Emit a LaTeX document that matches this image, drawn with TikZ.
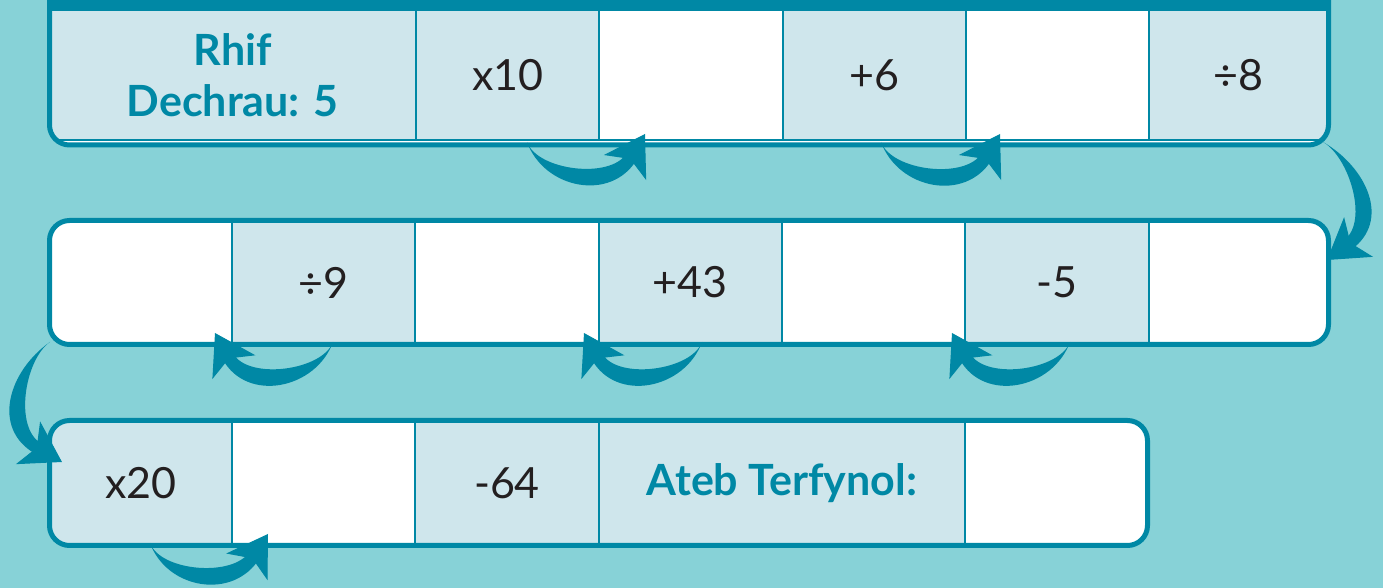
\documentclass[tikz,border=0pt]{standalone}
\usepackage{fontspec}
\setmainfont{Lato}
\usetikzlibrary{arrows.meta,positioning,calc}
\definecolor{sea}{HTML}{87D2D7}
\definecolor{deep}{HTML}{0088A5}
\definecolor{mist}{HTML}{CFE6EC}
\definecolor{ink}{HTML}{231F20}
\newcommand\numfont{\fontsize{21.5}{25}\selectfont}
\newcommand\tagfont{\fontsize{21.5}{25.5}\selectfont\bfseries}
\tikzset{cell/.style={draw=deep,line width=1pt,inner sep=0pt,outer sep=0pt,minimum width=91.65pt,font=\numfont,text=ink},opcell/.style={cell,fill=mist},gapcell/.style={cell,fill=white},tag/.style={font=\tagfont,text=deep,align=center},frame/.style={draw=deep,line width=2.5pt,rounded corners=10pt},hopbody/.style={fill=deep},hophead/.style={draw=deep,line width=.5pt,-{Stealth[length=19.5pt,width=24.5pt,inset=5pt]}}}
% #1 tail, #2 head base, #3 tip, #4 out, #5 in, #6 outer side
\newcommand\hop[6]{\coordinate (hf) at ($(#2)!0.3!(#3)$);\coordinate (ho) at ($(hf)!3pt!#6:(#3)$);\coordinate (hi) at ($(ho)!2!(hf)$);
\fill[hopbody] (#1) to[out=#4,in=#5,looseness=1.15] (ho) -- (hi) to[out=#5,in=#4,looseness=.78] (#1) -- cycle;\draw[hophead] (#2) -- (#3);}
\begin{document}
\begin{tikzpicture}[x=0.5pt,y=0.5pt]
\useasboundingbox (0,0) rectangle (1383,588);
\fill[sea] (0,0) rectangle (1383,588);
\coordinate (r1sw) at (49.5,443);\coordinate (r1ne) at (1328.5,640);
\coordinate (r2sw) at (49.5,243.5);\coordinate (r2ne) at (1328.5,367.5);
\coordinate (r3sw) at (49.5,42.5);\coordinate (r3ne) at (1147.5,167.5);
% row 1
\begin{scope}[cell/.append style={minimum height=65.25pt}]
\clip[rounded corners=10pt] (r1sw) rectangle (r1ne);
\fill[white] (r1sw) rectangle (r1ne);
\node[opcell,tag,minimum width=183.25pt,anchor=south west] (c11) at ($(r1sw)+(0,4.5)$) {Rhif\\Dechrau: 5};
\node[opcell,right=0pt of c11] (c12) {x10};
\node[gapcell,right=0pt of c12] (c13) {};
\node[opcell,right=0pt of c13] (c14) {+6};
\node[gapcell,right=0pt of c14] (c15) {};
\node[opcell,minimum width=89.65pt,right=0pt of c15] (c16) {÷8};
\fill[deep] (c11.north west) rectangle ($(c16.north east)+(0,80)$);
\end{scope}
\draw[frame] (r1sw) rectangle (r1ne);
% row 2
\begin{scope}[cell/.append style={minimum height=62pt}]
\clip[rounded corners=10pt] (r2sw) rectangle (r2ne);
\node[gapcell,minimum width=91.25pt,anchor=south west] (c21) at (r2sw) {};
\node[opcell,right=0pt of c21] (c22) {÷9};
\node[gapcell,right=0pt of c22] (c23) {};
\node[opcell,right=0pt of c23] (c24) {+43};
\node[gapcell,right=0pt of c24] (c25) {};
\node[opcell,right=0pt of c25] (c26) {-5};
\node[gapcell,minimum width=90pt,right=0pt of c26] (c27) {};
\end{scope}
\draw[frame] (r2sw) rectangle (r2ne);
% row 3
\begin{scope}[cell/.append style={minimum height=62.5pt}]
\clip[rounded corners=10pt] (r3sw) rectangle (r3ne);
\node[opcell,minimum width=91.25pt,anchor=south west] (c31) at (r3sw) {x20};
\node[gapcell,right=0pt of c31] (c32) {};
\node[opcell,right=0pt of c32] (c33) {-64};
\node[opcell,tag,minimum width=183.3pt,right=0pt of c33] (c34) {Ateb Terfynol:};
\node[gapcell,minimum width=91.15pt,right=0pt of c34] (c35) {};
\end{scope}
\draw[frame] (r3sw) rectangle (r3ne);
% hops
\coordinate (a1t) at ($(c13.south west)+(-72.3,-1.5)$);\coordinate (a1m) at ($(c13.south west)+(26.7,-25.5)$);\coordinate (a1p) at ($(c13.south west)+(45.7,6.5)$);
\coordinate (a2t) at ($(c15.south west)+(-84.9,-1.5)$);\coordinate (a2m) at ($(c15.south west)+(15.1,-25.5)$);\coordinate (a2p) at ($(c15.south west)+(34.1,6.5)$);
\coordinate (a3t) at ($(c16.south east)+(-5.5,-1.5)$);\coordinate (a3m) at ($(c27.north east)+(28,-18)$);\coordinate (a3p) at ($(c27.north east)+(-1.5,-39.5)$);
\coordinate (a4t) at ($(c21.south east)+(101,2.5)$);\coordinate (a4m) at ($(c21.south east)+(1.5,-22)$);\coordinate (a4p) at ($(c21.south east)+(-17,11.5)$);
\coordinate (a5t) at ($(c23.south east)+(103.4,2.5)$);\coordinate (a5m) at ($(c23.south east)+(3.9,-22)$);\coordinate (a5p) at ($(c23.south east)+(-14.6,11.5)$);
\coordinate (a6t) at ($(c25.south east)+(104.8,2.5)$);\coordinate (a6m) at ($(c25.south east)+(5.3,-22)$);\coordinate (a6p) at ($(c25.south east)+(-13.2,11.5)$);
\coordinate (a7t) at ($(c21.south west)+(0.5,2.5)$);\coordinate (a7m) at ($(c31.north west)+(-22,-22)$);\coordinate (a7p) at ($(c31.north west)+(12.5,-41.5)$);
\coordinate (a8t) at ($(c32.south west)+(-82,2.5)$);\coordinate (a8m) at ($(c32.south west)+(17,-18)$);\coordinate (a8p) at ($(c32.south west)+(36,11.5)$);
\hop{a1t}{a1m}{a1p}{-70}{-121}{-90}
\hop{a2t}{a2m}{a2p}{-70}{-121}{-90}
\hop{a3t}{a3m}{a3p}{-30}{36}{90}
\hop{a4t}{a4m}{a4p}{-110}{-61}{90}
\hop{a5t}{a5m}{a5p}{-110}{-61}{90}
\hop{a6t}{a6m}{a6p}{-110}{-61}{90}
\hop{a7t}{a7m}{a7p}{215}{150}{-90}
\hop{a8t}{a8m}{a8p}{-70}{-121}{-90}
\end{tikzpicture}
\end{document}
